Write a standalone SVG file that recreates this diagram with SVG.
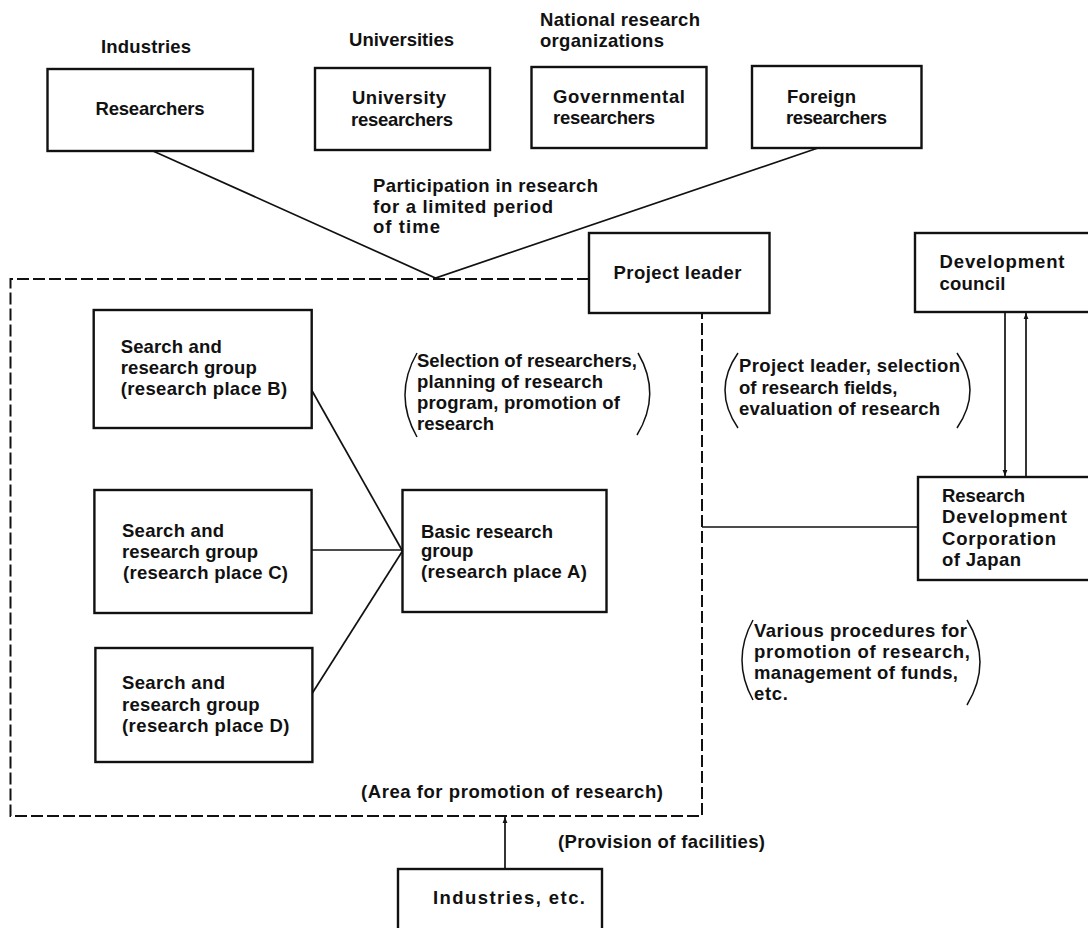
<svg xmlns="http://www.w3.org/2000/svg" width="1088" height="928" viewBox="0 0 1088 928">
<style>
text{font-family:"Liberation Sans",Arial,sans-serif;font-size:18.5px;font-weight:bold;fill:#111}
.box{fill:none;stroke:#111;stroke-width:2.4}
.ln{fill:none;stroke:#111;stroke-width:1.7}
.dash{fill:none;stroke:#111;stroke-width:2;stroke-dasharray:12 4}
.par{fill:none;stroke:#111;stroke-width:1.5}
</style>
<defs>
<marker id="ah" viewBox="0 0 10 10" refX="10" refY="5" markerWidth="6" markerHeight="8" orient="auto" markerUnits="userSpaceOnUse">
<path d="M0,1 L10,5 L0,9 Z" fill="#111"/>
</marker>
</defs>
<rect width="1088" height="928" fill="#fff"/>

<g id="labels">
<text x="101" y="53" textLength="90" lengthAdjust="spacing">Industries</text>
<text x="349" y="46" textLength="105" lengthAdjust="spacing">Universities</text>
<text x="540" y="26" textLength="160" lengthAdjust="spacing">National research</text>
<text x="540" y="47" textLength="124" lengthAdjust="spacing">organizations</text>
<text x="373" y="192" textLength="225" lengthAdjust="spacing">Participation in research</text>
<text x="373" y="213" textLength="180" lengthAdjust="spacing">for a limited period</text>
<text x="373" y="233" textLength="67" lengthAdjust="spacing">of time</text>
<text x="361" y="798" textLength="302" lengthAdjust="spacing">(Area for promotion of research)</text>
<text x="558" y="848" textLength="207" lengthAdjust="spacing">(Provision of facilities)</text>
</g>

<g id="n-researchers"><rect class="box" x="47.5" y="69" width="205.5" height="82"/><text x="95.5" y="115" textLength="109" lengthAdjust="spacing">Researchers</text></g>
<g id="n-university"><rect class="box" x="315" y="68" width="175" height="82"/><text x="352" y="104" textLength="94" lengthAdjust="spacing">University</text><text x="351" y="126" textLength="102" lengthAdjust="spacing">researchers</text></g>
<g id="n-governmental"><rect class="box" x="531.5" y="67" width="175" height="81"/><text x="553" y="103" textLength="132" lengthAdjust="spacing">Governmental</text><text x="553" y="124" textLength="102" lengthAdjust="spacing">researchers</text></g>
<g id="n-foreign"><rect class="box" x="752" y="66" width="169.5" height="82"/><text x="787" y="103" textLength="69" lengthAdjust="spacing">Foreign</text><text x="786" y="124" textLength="101" lengthAdjust="spacing">researchers</text></g>

<g id="n-projectleader"><rect class="box" x="589" y="233" width="180.5" height="80"/><text x="613.5" y="279" textLength="128" lengthAdjust="spacing">Project leader</text></g>
<g id="n-devcouncil"><rect class="box" x="915" y="233" width="190" height="79"/><text x="939.5" y="268" textLength="125" lengthAdjust="spacing">Development</text><text x="939.5" y="290" textLength="66" lengthAdjust="spacing">council</text></g>
<g id="n-rdc"><rect class="box" x="918" y="477" width="190" height="103"/><text x="942" y="502" textLength="83" lengthAdjust="spacing">Research</text><text x="942" y="523" textLength="125" lengthAdjust="spacing">Development</text><text x="942" y="545" textLength="114" lengthAdjust="spacing">Corporation</text><text x="942" y="566" textLength="79" lengthAdjust="spacing">of Japan</text></g>

<g id="n-groupB"><rect class="box" x="93.7" y="310" width="218" height="118"/><text x="120.7" y="353" textLength="101" lengthAdjust="spacing">Search and</text><text x="120.7" y="374" textLength="136" lengthAdjust="spacing">research group</text><text x="120.7" y="395" textLength="166.5" lengthAdjust="spacing">(research place B)</text></g>
<g id="n-groupC"><rect class="box" x="94.4" y="490" width="217.2" height="123"/><text x="122" y="537" textLength="102" lengthAdjust="spacing">Search and</text><text x="122" y="558" textLength="136" lengthAdjust="spacing">research group</text><text x="123" y="579" textLength="165" lengthAdjust="spacing">(research place C)</text></g>
<g id="n-groupD"><rect class="box" x="95.4" y="648" width="217" height="114"/><text x="122" y="689" textLength="103" lengthAdjust="spacing">Search and</text><text x="122" y="711" textLength="137.5" lengthAdjust="spacing">research group</text><text x="122" y="732" textLength="167.5" lengthAdjust="spacing">(research place D)</text></g>
<g id="n-groupA"><rect class="box" x="402.5" y="490" width="204" height="122"/><text x="421" y="538" textLength="132" lengthAdjust="spacing">Basic research</text><text x="421" y="557">group</text><text x="421" y="578" textLength="166" lengthAdjust="spacing">(research place A)</text></g>

<g id="n-industries"><rect class="box" x="398" y="869" width="204" height="70"/><text x="433" y="904" textLength="152" lengthAdjust="spacing">Industries, etc.</text></g>

<g id="notes">
<path class="par" d="M417,353 Q393,395 417,437"/>
<text x="417" y="367" textLength="220" lengthAdjust="spacing">Selection of researchers,</text>
<text x="417" y="388" textLength="186" lengthAdjust="spacing">planning of research</text>
<text x="417" y="409" textLength="203" lengthAdjust="spacing">program, promotion of</text>
<text x="417" y="430" textLength="77" lengthAdjust="spacing">research</text>
<path class="par" d="M638,353 Q662,394 637,435"/>
<path class="par" d="M738,353 Q712,390 738,428"/>
<text x="739" y="372" textLength="221" lengthAdjust="spacing">Project leader, selection</text>
<text x="739" y="394">of research fields,</text>
<text x="739" y="415" textLength="201" lengthAdjust="spacing">evaluation of research</text>
<path class="par" d="M957,353 Q983,390 957,428"/>
<path class="par" d="M753,620 Q731,660 753,700"/>
<text x="754" y="637" textLength="213" lengthAdjust="spacing">Various procedures for</text>
<text x="754" y="658" textLength="216" lengthAdjust="spacing">promotion of research,</text>
<text x="754" y="679" textLength="204" lengthAdjust="spacing">management of funds,</text>
<text x="754" y="700" textLength="34" lengthAdjust="spacing">etc.</text>
<path class="par" d="M967,620 Q993,662 967,705"/>
</g>

<g id="area">
<path class="dash" d="M589,279 H10.5 V816 H702 V313"/>
</g>

<g id="connectors">
<path class="ln" d="M153,151 L435.5,278 L818,148"/>
<path class="ln" d="M311.6,390 L402.5,551"/>
<path class="ln" d="M311.6,550 H402.5"/>
<path class="ln" d="M312.4,693 L402.5,551"/>
<path class="ln" d="M702,527 H918"/>
<path class="ln" d="M1005,312 V476" marker-end="url(#ah)"/>
<path class="ln" d="M1026,477 V313" marker-end="url(#ah)"/>
<path class="ln" d="M505,869 V817" marker-end="url(#ah)"/>
</g>
</svg>
